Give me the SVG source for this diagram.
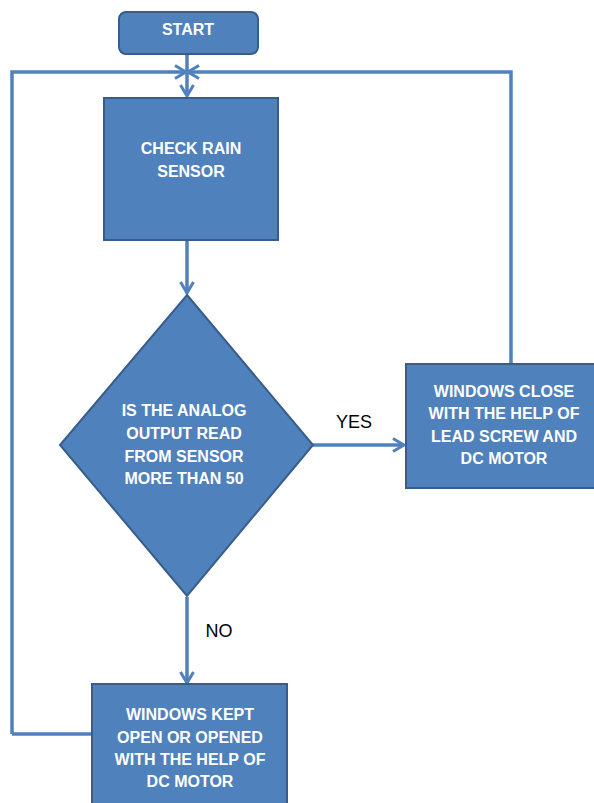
<svg xmlns="http://www.w3.org/2000/svg" width="594" height="803" viewBox="0 0 594 803">
<style>
.box{fill:#4F81BD;stroke:#385D8A;stroke-width:2}
.t{fill:#fff;font-family:"Liberation Sans",Arial,sans-serif;font-weight:bold;font-size:16px;text-anchor:middle}
.lbl{fill:#000;font-family:"Liberation Sans",Arial,sans-serif;font-size:18px;text-anchor:middle}
.c{fill:none;stroke:#4F81BD;stroke-width:3.5}
</style>
<defs>
<marker id="ah" viewBox="0 0 14 16" refX="12.5" refY="8" markerWidth="14" markerHeight="16" markerUnits="userSpaceOnUse" orient="auto">
<path d="M1.5,1.5 L12.5,8 L1.5,14.5" fill="none" stroke="#4F81BD" stroke-width="3"/>
</marker>
</defs>
<rect width="594" height="803" fill="#fff"/>
<g id="connectors">
<path class="c" d="M187,54 V96" marker-end="url(#ah)"/>
<path class="c" d="M12,734 H92 M12,734 V72 H186" marker-end="url(#ah)"/>
<path class="c" d="M511,364 V72 H188" marker-end="url(#ah)"/>
<path class="c" d="M187,240 V293" marker-end="url(#ah)"/>
<path class="c" d="M313,445 H404" marker-end="url(#ah)"/>
<path class="c" d="M187,597 V683" marker-end="url(#ah)"/>
</g>
<g id="start">
<rect class="box" x="119" y="12" width="139" height="42" rx="7"/>
<text class="t" x="188" y="35">START</text>
</g>
<g id="check">
<rect class="box" x="104" y="98" width="174" height="142"/>
<text class="t" x="191" y="154">CHECK RAIN</text>
<text class="t" x="191" y="177">SENSOR</text>
</g>
<g id="decision">
<polygon class="box" points="187,295 313,445 187,596 60,445"/>
<text class="t" x="184" y="416">IS THE ANALOG</text>
<text class="t" x="184" y="439">OUTPUT READ</text>
<text class="t" x="184" y="462">FROM SENSOR</text>
<text class="t" x="184" y="484">MORE THAN 50</text>
</g>
<g id="close">
<rect class="box" x="406" y="364" width="190" height="124"/>
<text class="t" x="504" y="397">WINDOWS CLOSE</text>
<text class="t" x="504" y="419">WITH THE HELP OF</text>
<text class="t" x="504" y="442">LEAD SCREW AND</text>
<text class="t" x="504" y="464">DC MOTOR</text>
</g>
<g id="open">
<rect class="box" x="92" y="684" width="195" height="125"/>
<text class="t" x="190" y="720">WINDOWS KEPT</text>
<text class="t" x="190" y="743">OPEN OR OPENED</text>
<text class="t" x="190" y="765">WITH THE HELP OF</text>
<text class="t" x="190" y="787">DC MOTOR</text>
</g>
<text class="lbl" x="354" y="428">YES</text>
<text class="lbl" x="219" y="637">NO</text>
</svg>
